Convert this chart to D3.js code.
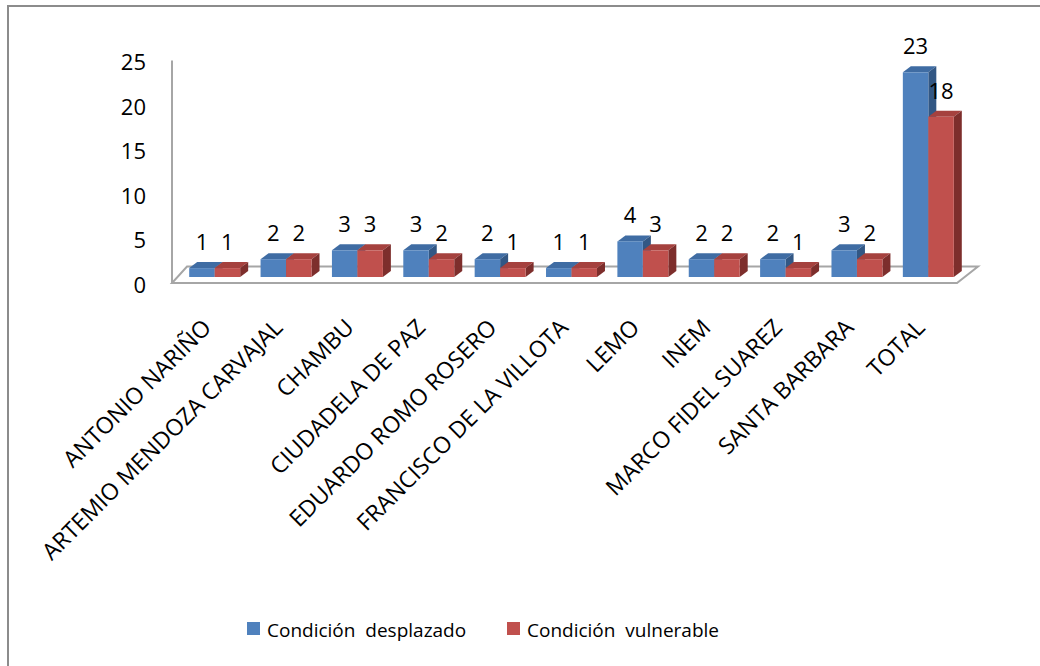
<!DOCTYPE html>
<html>
<head>
<meta charset="utf-8">
<script src="https://cdn.jsdelivr.net/npm/d3@7"></script>
<style>
  html, body { margin: 0; padding: 0; background: #fff; }
  svg { display: block; }
  text { font-family: "Open Sans", "DejaVu Sans", sans-serif; fill: #000; }
</style>
</head>
<body>
<svg id="chart" width="1040" height="666"></svg>
<script>
const categories = ["ANTONIO NARIÑO","ARTEMIO MENDOZA CARVAJAL","CHAMBU","CIUDADELA DE PAZ","EDUARDO ROMO ROSERO","FRANCISCO DE LA VILLOTA","LEMO","INEM","MARCO FIDEL SUAREZ","SANTA BARBARA","TOTAL"];
const desplazado = [1,2,3,3,2,1,4,2,2,3,23];
const vulnerable = [1,2,3,2,1,1,3,2,1,2,18];
const yTicks = [0,5,10,15,20,25];
const seriesNames = ["Condición  desplazado","Condición  vulnerable"];
const seriesValues = [desplazado, vulnerable];
const seriesFront = ["#4F81BD","#C0504D"];
const seriesTop   = ["#3F6CA3","#A5413E"];
const seriesSide  = ["#325784","#7D2E2C"];

const svg = d3.select("#chart");
const W = 1040, H = 666;

// outer frame (right/bottom edges fall outside the picture)
svg.append("rect").attr("x",8).attr("y",6).attr("width",W+20).attr("height",H+20)
  .attr("fill","#fff").attr("stroke","#8C8C8C").attr("stroke-width",2);

const floorFront = 283, floorBack = 266.5, base = 277;
const depthL = 15, depthR = 21;
const x = d3.scaleBand().domain(categories).range([172,957]).padding(0);
const y = d3.scaleLinear().domain([0,25]).range([base, base - 25*8.9]);
const barW = x.bandwidth()*0.357;
const shift = 7;
const bdx = 8, bdy = -6;

// floor
const x0 = x.range()[0], x1 = x.range()[1];
svg.append("path")
  .attr("d", `M${x0},${floorFront} L${x1},${floorFront} L${x1+depthR},${floorBack} L${x0+depthL},${floorBack} Z`)
  .attr("fill","#fff").attr("stroke","#A6A6A6").attr("stroke-width",2).attr("stroke-linejoin","miter");

// vertical axis line
svg.append("line").attr("x1",x0).attr("x2",x0).attr("y1",y(25)+6).attr("y2",floorFront)
  .attr("stroke","#A6A6A6").attr("stroke-width",2);

// y tick labels
const yLab = d3.scaleLinear().domain([0,25]).range([y(0)+8, y(25)+8]);
const yAxis = d3.axisLeft(yLab).tickValues(yTicks).tickSize(0).tickPadding(26);
const ga = svg.append("g").attr("transform",`translate(${x0},0)`).call(yAxis);
ga.select(".domain").remove();
ga.selectAll("text").attr("font-size",22).style("font-family",'"Open Sans", sans-serif').attr("fill","#000");

// bars
const barsG = svg.append("g");
categories.forEach((c,i) => {
  const cx = x(c) + x.bandwidth()/2 + shift;
  seriesValues.forEach((vals,s) => {
    const v = vals[i];
    const bx = cx - barW + s*barW;
    const yt = y(v), yb = y(0);
    const g = barsG.append("g");
    g.append("path").attr("d",`M${bx},${yt} L${bx+bdx},${yt+bdy} L${bx+barW+bdx},${yt+bdy} L${bx+barW},${yt} Z`)
      .attr("fill",seriesTop[s]);
    g.append("path").attr("d",`M${bx+barW},${yt} L${bx+barW+bdx},${yt+bdy} L${bx+barW+bdx},${yb+bdy} L${bx+barW},${yb} Z`)
      .attr("fill",seriesSide[s]);
    g.append("rect").attr("x",bx).attr("y",yt).attr("width",barW).attr("height",yb-yt)
      .attr("fill",seriesFront[s]);
  });
});

// value labels
categories.forEach((c,i) => {
  const cx = x(c) + x.bandwidth()/2 + shift;
  seriesValues.forEach((vals,s) => {
    const v = vals[i];
    const bx = cx - barW + s*barW;
    svg.append("text").attr("x",bx+barW/2).attr("y",y(v)-18)
      .attr("text-anchor","middle").attr("font-size",22).text(v);
  });
});

// category labels
svg.append("g").selectAll("text").data(categories).join("text")
  .attr("transform", d => `translate(${x(d)+x.bandwidth()/2+5},${329}) rotate(-45)`)
  .attr("text-anchor","end").attr("font-size",23).text(d => d);

// legend
const legX = [247, 507];
const lg = svg.append("g");
seriesNames.forEach((n,s) => {
  lg.append("rect").attr("x",legX[s]).attr("y",622).attr("width",13).attr("height",13).attr("fill",seriesFront[s]);
  lg.append("text").attr("x",legX[s]+20).attr("y",637).attr("font-size",19)
    .style("white-space","pre").text(n);
});
</script>
</body>
</html>
